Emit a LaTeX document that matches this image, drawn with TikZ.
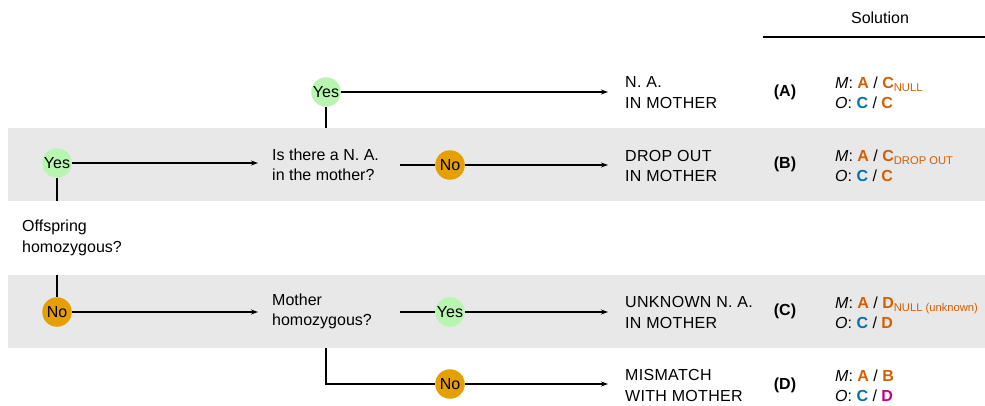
\documentclass[tikz,border=0pt]{standalone}
\usepackage{fontspec}
\setmainfont{Liberation Sans}
\usetikzlibrary{arrows.meta}
\definecolor{bandgray}{RGB}{232,232,232}
\definecolor{yesgreen}{RGB}{184,245,176}
\definecolor{noorange}{RGB}{228,159,0}
\definecolor{allorange}{RGB}{213,94,0}
\definecolor{allblue}{RGB}{0,114,178}
\definecolor{allpink}{RGB}{196,0,122}
\newcommand{\oA}[1]{\textcolor{allorange}{\textbf{#1}}}
\newcommand{\bA}[1]{\textcolor{allblue}{\textbf{#1}}}
\newcommand{\pA}[1]{\textcolor{allpink}{\textbf{#1}}}
\newcommand{\subA}[1]{\textcolor{allorange}{\textsubscript{#1}}}
\begin{document}
\begin{tikzpicture}[x=1pt,y=-1pt,
  every node/.style={font=\fontsize{16}{20.5}\selectfont},
  yesnode/.style={circle,fill=yesgreen,minimum size=29.5pt,inner sep=0pt},
  nonode/.style={circle,fill=noorange,minimum size=29.5pt,inner sep=0pt},
  question/.style={anchor=west,align=left,inner sep=0pt},
  outcome/.style={anchor=west,align=left,inner sep=0pt,
    font=\fontsize{16}{20.5}\selectfont\addfontfeature{LetterSpace=2}},
  tag/.style={font=\fontsize{16}{20.5}\selectfont\bfseries,inner sep=0pt},
  sol/.style={anchor=west,align=left,inner sep=0pt},
  link/.style={line width=1.5pt},
  arrow/.style={link,-{Stealth[length=7pt,width=5pt]}}]
\useasboundingbox (0,0) rectangle (985,405);
% shaded rows
\fill[bandgray] (8,128) rectangle (985,201);
\fill[bandgray] (8,275) rectangle (985,348);
% column header
\node[inner sep=0pt] (solhead) at (880,18) {Solution};
\draw[line width=1.8pt] (763,37) -- (985,37);

% decision texts
\node[question] (offspring) at (22,238) {Offspring\\homozygous?};
\node[question] (nainmother) at (272,165) {Is there a N. A.\\in the mother?};
\node[question] (motherhom) at (272,311.5) {Mother\\homozygous?};

% answer bubbles
\node[yesnode] (yes1) at (57,163) {Yes};
\node[nonode] (no1) at (57,312) {No};
\node[yesnode] (yes2) at (326,92) {Yes};
\node[nonode] (no2) at (450,165) {No};
\node[yesnode] (yes3) at (450,312) {Yes};
\node[nonode] (no3) at (450,384) {No};

% outcomes
\node[outcome] (outA) at (625,92.5) {N. A.\\IN MOTHER};
\node[outcome] (outB) at (625,166) {DROP OUT\\IN MOTHER};
\node[outcome] (outC) at (625,312.5) {UNKNOWN N. A.\\IN MOTHER};
\node[outcome] (outD) at (625,385.5) {MISMATCH\\WITH MOTHER};

% coordinates for line ends
\coordinate (offtop) at (57,201);
\coordinate (offbot) at (57,275);
\coordinate (qBin) at (258,163);
\coordinate (qCin) at (258,312);
\coordinate (qBup) at (326,128);
\coordinate (qBout) at (400,165);
\coordinate (qCout) at (400,312);
\coordinate (qCdown) at (326,348);
\coordinate (endA) at (608,92);
\coordinate (endB) at (608,165);
\coordinate (endC) at (608,312);
\coordinate (endD) at (608,384);

% connectors
\draw[link] (offtop) -- (yes1);
\draw[link] (offbot) -- (no1);
\draw[arrow] (yes1) -- (qBin);
\draw[arrow] (no1) -- (qCin);
\draw[link] (qBup) -- (yes2);
\draw[arrow] (yes2) -- (endA);
\draw[link] (qBout) -- (no2);
\draw[arrow] (no2) -- (endB);
\draw[link] (qCout) -- (yes3);
\draw[arrow] (yes3) -- (endC);
\draw[link] (qCdown) |- (no3);
\draw[arrow] (no3) -- (endD);

% case labels
\node[tag] (tA) at (785,92) {(A)};
\node[tag] (tB) at (785,164) {(B)};
\node[tag] (tC) at (785,311) {(C)};
\node[tag] (tD) at (785,385) {(D)};

% allele solutions
\node[sol] (sA) at (835,93) {\textit{M}: \oA{A} / \oA{C}\subA{NULL}\\\textit{O}: \bA{C} / \oA{C}};
\node[sol] (sB) at (835,166) {\textit{M}: \oA{A} / \oA{C}\subA{DROP OUT}\\\textit{O}: \bA{C} / \oA{C}};
\node[sol] (sC) at (835,313) {\textit{M}: \oA{A} / \oA{D}\subA{NULL (unknown)}\\\textit{O}: \bA{C} / \oA{D}};
\node[sol] (sD) at (835,386) {\textit{M}: \oA{A} / \oA{B}\\\textit{O}: \bA{C} / \pA{D}};
\end{tikzpicture}
\end{document}
